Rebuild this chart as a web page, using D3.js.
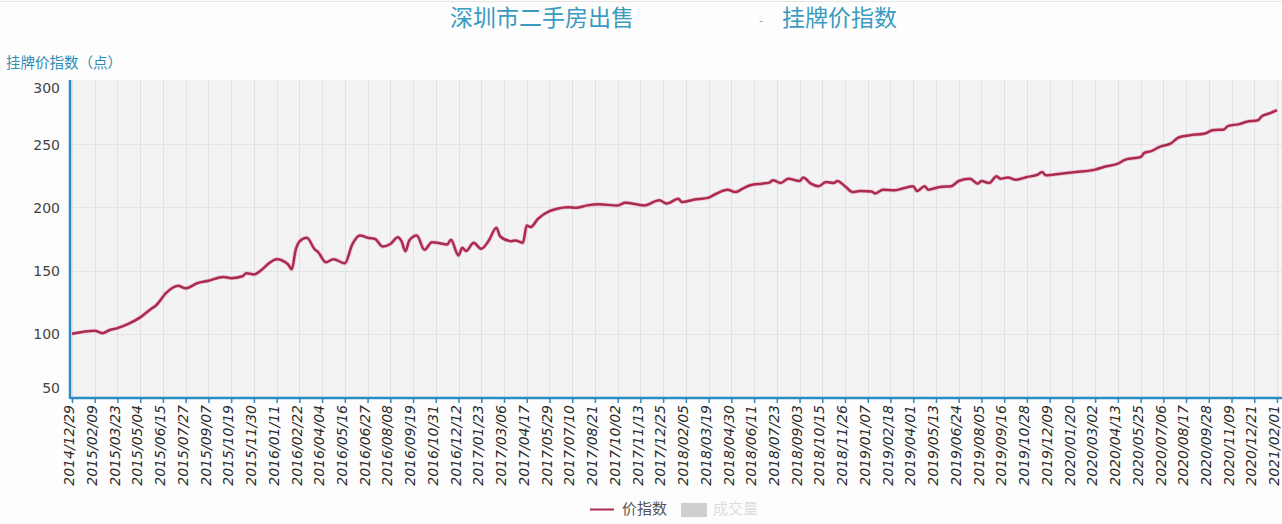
<!DOCTYPE html>
<html>
<head>
<meta charset="utf-8">
<script src="https://cdn.jsdelivr.net/npm/d3@7"></script>
<style>
  html, body { margin: 0; padding: 0; background: #fdfdfd; }
  svg { display: block; }
</style>
</head>
<body>
<svg id="chart" width="1282" height="524"></svg>
<script>
// ---------------- data ----------------
const titleLeft = "深圳市二手房出售";
const titleRight = "挂牌价指数";
const yAxisTitle = "挂牌价指数（点）";
const legendLabels = ["价指数", "成交量"];
const yTicks = [50, 100, 150, 200, 250, 300];
const tickLabels = [
  "2014/12/29","2015/02/09","2015/03/23","2015/05/04","2015/06/15","2015/07/27","2015/09/07",
  "2015/10/19","2015/11/30","2016/01/11","2016/02/22","2016/04/04","2016/05/16","2016/06/27",
  "2016/08/08","2016/09/19","2016/10/31","2016/12/12","2017/01/23","2017/03/06","2017/04/17",
  "2017/05/29","2017/07/10","2017/08/21","2017/10/02","2017/11/13","2017/12/25","2018/02/05",
  "2018/03/19","2018/04/30","2018/06/11","2018/07/23","2018/09/03","2018/10/15","2018/11/26",
  "2019/01/07","2019/02/18","2019/04/01","2019/05/13","2019/06/24","2019/08/05","2019/09/16",
  "2019/10/28","2019/12/09","2020/01/20","2020/03/02","2020/04/13","2020/05/25","2020/07/06",
  "2020/08/17","2020/09/28","2020/11/09","2020/12/21","2021/02/01"
];
// weekly categories (every Monday from first to last label)
const fmt = d3.timeFormat("%Y/%m/%d");
const parse = d3.timeParse("%Y/%m/%d");
const categories = d3.timeMonday
  .range(parse(tickLabels[0]), d3.timeDay.offset(parse(tickLabels[tickLabels.length - 1]), 1))
  .map(fmt);

// readings: week number (index into categories) and index value
const weekIndex = [
  0,6,8,10,12,15,18,21,22,25,28,30,33,36,40,42,45,46,48,50,52,54,57,58,59,60,62,64,65,67,69,72,
  74,76,78,80,82,84,86,87,88,89,91,93,95,97,99,100,102,103,104,106,108,110,112,113,116,117,119,
  120,121,123,126,128,131,133,136,139,144,146,151,155,157,160,161,164,168,170,173,175,177,179,
  182,184,185,187,189,192,193,195,197,199,201,202,204,206,208,211,212,214,217,219,222,223,225,
  226,229,232,234,237,239,240,242,244,245,247,249,252,255,256,257,261,265,270,273,276,278,282,
  283,285,287,290,292,295,299,301,304,305,308,310,313,314,316,318
];
const indexValues = [
  100,102.4,100.5,103,104.5,108,113,120,122,132.8,138,136,140,142,145,144,145.5,148,147,150.5,
  155.8,159,155,151,166,173,176,167,164.5,156.6,159,155.8,
  171,177.8,176,175,169,171,176.4,173,165.3,173.8,177.8,166.4,172.5,171.7,170.6,174.4,162,168,
  165.5,172,167.2,173.8,183.9,177,173.3,173.8,172,
  185.7,184.4,191,197,199,200.2,199.8,201.6,202.4,201.6,203.7,201.6,205.6,203,206.9,204.2,206.1,
  207.7,210.8,214,212.1,214.8,217.5,
  218.8,219.6,221.4,219.3,222.7,220.9,223.6,218.8,216.7,220.1,219.3,220.9,216.7,212.1,213,212.5,
  211,214,213.5,214.8,216.7,212.9,216.7,
  214,216.2,216.7,220.9,222.7,218.8,220.9,219.3,224.6,222.7,223.6,221.9,224,226.2,228,225.4,
  226.7,228,229.9,232.5,234.6,237.8,239.9,
  243.1,244.7,247.9,250.6,255.3,257.1,258.5,261.1,261.7,264.3,265.9,267.7,269,272.2,274.4,277
];
const series = weekIndex.map((w, i) => ({ cat: categories[w], value: indexValues[i] }));

// ---------------- drawing ----------------
const svg = d3.select("#chart");
const plot = { left: 70, right: 1282, top: 80, bottom: 398 };
const x = d3.scalePoint().domain(categories).range([72, 1277]).padding(0);
const y = d3.scaleLinear().domain([50, 300]).range([397, 81]);

const axisBlue = "#2a8cc2";
const teal = "#3a9bc0";
const lineColor = "#ab2b4f";

// top hairline
svg.append("line").attr("x1", 0).attr("x2", 1282).attr("y1", 1.5).attr("y2", 1.5)
  .attr("stroke", "#e4e4e4").attr("stroke-width", 1);

// plot background
svg.append("rect")
  .attr("x", plot.left).attr("y", plot.top)
  .attr("width", plot.right - plot.left).attr("height", plot.bottom - plot.top)
  .attr("fill", "#f3f3f5");

// vertical gridlines at label ticks
svg.append("g").selectAll("line").data(tickLabels).join("line")
  .attr("x1", d => Math.round(x(d)) + 0.5).attr("x2", d => Math.round(x(d)) + 0.5)
  .attr("y1", plot.top).attr("y2", plot.bottom)
  .attr("stroke", "#e1e1e4").attr("stroke-width", 1);

// horizontal gridlines
svg.append("g").selectAll("line").data(yTicks.slice(1, -1)).join("line")
  .attr("x1", plot.left).attr("x2", plot.right)
  .attr("y1", d => Math.round(y(d)) + 0.5).attr("y2", d => Math.round(y(d)) + 0.5)
  .attr("stroke", "#e4e4e7").attr("stroke-width", 1);

// line
const line = d3.line()
  .x(d => x(d.cat))
  .y(d => y(d.value))
  .curve(d3.curveMonotoneX);
svg.append("path").datum(series)
  .attr("fill", "none")
  .attr("stroke", "#e8a0b4").attr("stroke-opacity", 0.5)
  .attr("stroke-width", 4.2).attr("stroke-linejoin", "round")
  .attr("d", line);
svg.append("path").datum(series)
  .attr("fill", "none")
  .attr("stroke", lineColor)
  .attr("stroke-width", 2.5).attr("stroke-linejoin", "round")
  .attr("d", line);

// y axis
const yAxis = d3.axisLeft(y).tickValues(yTicks).tickSize(0).tickPadding(10);
const gy = svg.append("g").attr("transform", `translate(${plot.left},0)`).call(yAxis);
gy.select(".domain").remove();
gy.selectAll("text")
  .attr("font-family", "'DejaVu Sans', sans-serif")
  .attr("font-size", 14)
  .attr("fill", "#444")
  .attr("dy", d => d === 300 ? "0.8em" : d === 50 ? "-0.35em" : "0.35em");
svg.append("line")
  .attr("x1", plot.left).attr("x2", plot.left)
  .attr("y1", plot.top).attr("y2", plot.bottom + 1)
  .attr("stroke", axisBlue).attr("stroke-width", 2.5);

// x axis
const xAxis = d3.axisBottom(x).tickValues(tickLabels).tickSize(5).tickPadding(4);
const gx = svg.append("g").attr("transform", `translate(0,${plot.bottom})`).call(xAxis);
gx.select(".domain")
  .attr("d", `M${plot.left},0H${plot.right}`)
  .attr("stroke", axisBlue).attr("stroke-width", 2.5);
gx.selectAll(".tick line").attr("stroke", axisBlue).attr("stroke-width", 1.5);
gx.selectAll(".tick text")
  .attr("font-family", "'DejaVu Sans', sans-serif")
  .attr("font-style", "italic")
  .attr("font-size", 14)
  .attr("fill", "#2a2a2a")
  .attr("text-anchor", "end")
  .attr("transform", "rotate(-90)")
  .attr("x", -7).attr("y", 0).attr("dy", "0.12em");

// titles
svg.append("text").attr("x", 450).attr("y", 26)
  .attr("font-family", "'Noto Sans CJK SC', sans-serif").attr("font-size", 23)
  .attr("fill", teal).text(titleLeft);
svg.append("text").attr("x", 759).attr("y", 25)
  .attr("font-family", "'Noto Sans CJK SC', sans-serif").attr("font-size", 12)
  .attr("fill", "#8aa").text("-");
svg.append("text").attr("x", 782).attr("y", 26)
  .attr("font-family", "'Noto Sans CJK SC', sans-serif").attr("font-size", 23)
  .attr("fill", teal).text(titleRight);
svg.append("text").attr("x", 6).attr("y", 68)
  .attr("font-family", "'Noto Sans CJK SC', sans-serif").attr("font-size", 14.5)
  .attr("fill", "#2f8cb3").text(yAxisTitle);

// legend
const lg = svg.append("g");
lg.append("line").attr("x1", 590).attr("x2", 614).attr("y1", 509.5).attr("y2", 509.5)
  .attr("stroke", lineColor).attr("stroke-width", 2);
lg.append("text").attr("x", 622).attr("y", 514)
  .attr("font-family", "'Noto Sans CJK SC', sans-serif").attr("font-size", 15)
  .attr("fill", "#555").text(legendLabels[0]);
lg.append("rect").attr("x", 681).attr("y", 503).attr("width", 26).attr("height", 14)
  .attr("fill", "#cfcfd2");
lg.append("text").attr("x", 713).attr("y", 514)
  .attr("font-family", "'Noto Sans CJK SC', sans-serif").attr("font-size", 15)
  .attr("fill", "#dcdcdc").text(legendLabels[1]);
</script>
</body>
</html>
